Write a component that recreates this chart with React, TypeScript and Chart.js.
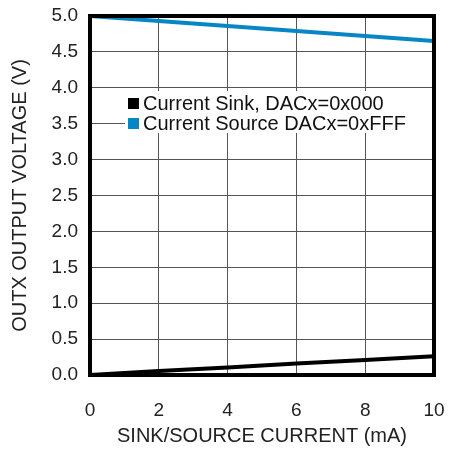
import React, { useEffect, useRef } from "react";
import { Chart, registerables } from "chart.js";

Chart.register(...registerables);

const currents = [0, 2, 4, 6, 8, 10];
const sinkVoltage = [0, 0.055, 0.105, 0.16, 0.21, 0.26];
const sourceVoltage = [5.0, 4.93, 4.86, 4.79, 4.72, 4.65];
const seriesLabels = ["Current Sink, DACx=0x000", "Current Source DACx=0xFFF"];
const seriesColors = ["#000000", "#0786c6"];
const xTitle = "SINK/SOURCE CURRENT (mA)";
const yTitle = "OUTX OUTPUT VOLTAGE (V)";

const FONT = "'Liberation Sans', Arial, sans-serif";

const framePlugin = {
  id: "frame",
  afterDatasetsDraw(chart: any) {
    const { ctx, chartArea } = chart;
    ctx.save();
    ctx.strokeStyle = "#000";
    ctx.lineWidth = 4;
    ctx.strokeRect(chartArea.left, chartArea.top, chartArea.right - chartArea.left, chartArea.bottom - chartArea.top);
    ctx.restore();
  },
};

const legendPlugin = {
  id: "innerLegend",
  afterDatasetsDraw(chart: any) {
    const { ctx, chartArea } = chart;
    ctx.save();
    ctx.fillStyle = "#fff";
    ctx.fillRect(125, 91, chartArea.right - 125, 42);
    ctx.font = `20px ${FONT}`;
    ctx.textBaseline = "middle";
    chart.data.datasets.forEach((ds: any, i: number) => {
      const y = 103 + i * 20;
      ctx.fillStyle = ds.borderColor;
      ctx.fillRect(128, y - 5, 11, 11);
      ctx.fillStyle = "#111";
      ctx.fillText(ds.label, 143, y + 1);
    });
    ctx.restore();
  },
};

export default function App() {
  const ref = useRef<HTMLCanvasElement>(null);
  useEffect(() => {
    document.body.style.margin = "0";
    const chart = new Chart(ref.current!, {
      type: "line",
      data: {
        datasets: [
          {
            label: seriesLabels[0],
            data: currents.map((x, i) => ({ x, y: sinkVoltage[i] })),
            borderColor: seriesColors[0],
            backgroundColor: seriesColors[0],
            borderWidth: 4,
            pointRadius: 0,
            tension: 0,
          },
          {
            label: seriesLabels[1],
            data: currents.map((x, i) => ({ x, y: sourceVoltage[i] })),
            borderColor: seriesColors[1],
            backgroundColor: seriesColors[1],
            borderWidth: 4,
            pointRadius: 0,
            tension: 0,
          },
        ],
      },
      options: {
        responsive: false,
        animation: false,
        layout: { padding: 0 },
        plugins: { legend: { display: false }, tooltip: { enabled: false } },
        scales: {
          x: {
            type: "linear",
            min: 0,
            max: 10,
            ticks: { stepSize: 2, padding: 24, color: "#222", font: { family: FONT, size: 19 } },
            grid: { color: "#555", lineWidth: 1, drawTicks: false },
            border: { display: false },
            title: { display: true, text: xTitle, color: "#222", font: { family: FONT, size: 20 }, padding: { top: 0, bottom: 2 } },
            afterFit(scale: any) {
              scale.height = 75;
              scale.paddingLeft = 0;
              scale.paddingRight = 15;
            },
          },
          y: {
            type: "linear",
            min: 0,
            max: 5,
            ticks: {
              stepSize: 0.5,
              padding: 12,
              color: "#222",
              font: { family: FONT, size: 19 },
              callback: (v: any) => Number(v).toFixed(1),
            },
            grid: { color: "#555", lineWidth: 1, drawTicks: false },
            border: { display: false },
            title: { display: true, text: yTitle, color: "#222", font: { family: FONT, size: 20 }, padding: { top: 8, bottom: 0 } },
            afterFit(scale: any) {
              scale.width = 90;
              scale.paddingTop = 16;
              scale.paddingBottom = 0;
            },
          },
        },
      },
      plugins: [legendPlugin, framePlugin],
    });
    return () => chart.destroy();
  }, []);
  return <canvas ref={ref} width={449} height={450} style={{ display: "block" }} />;
}
